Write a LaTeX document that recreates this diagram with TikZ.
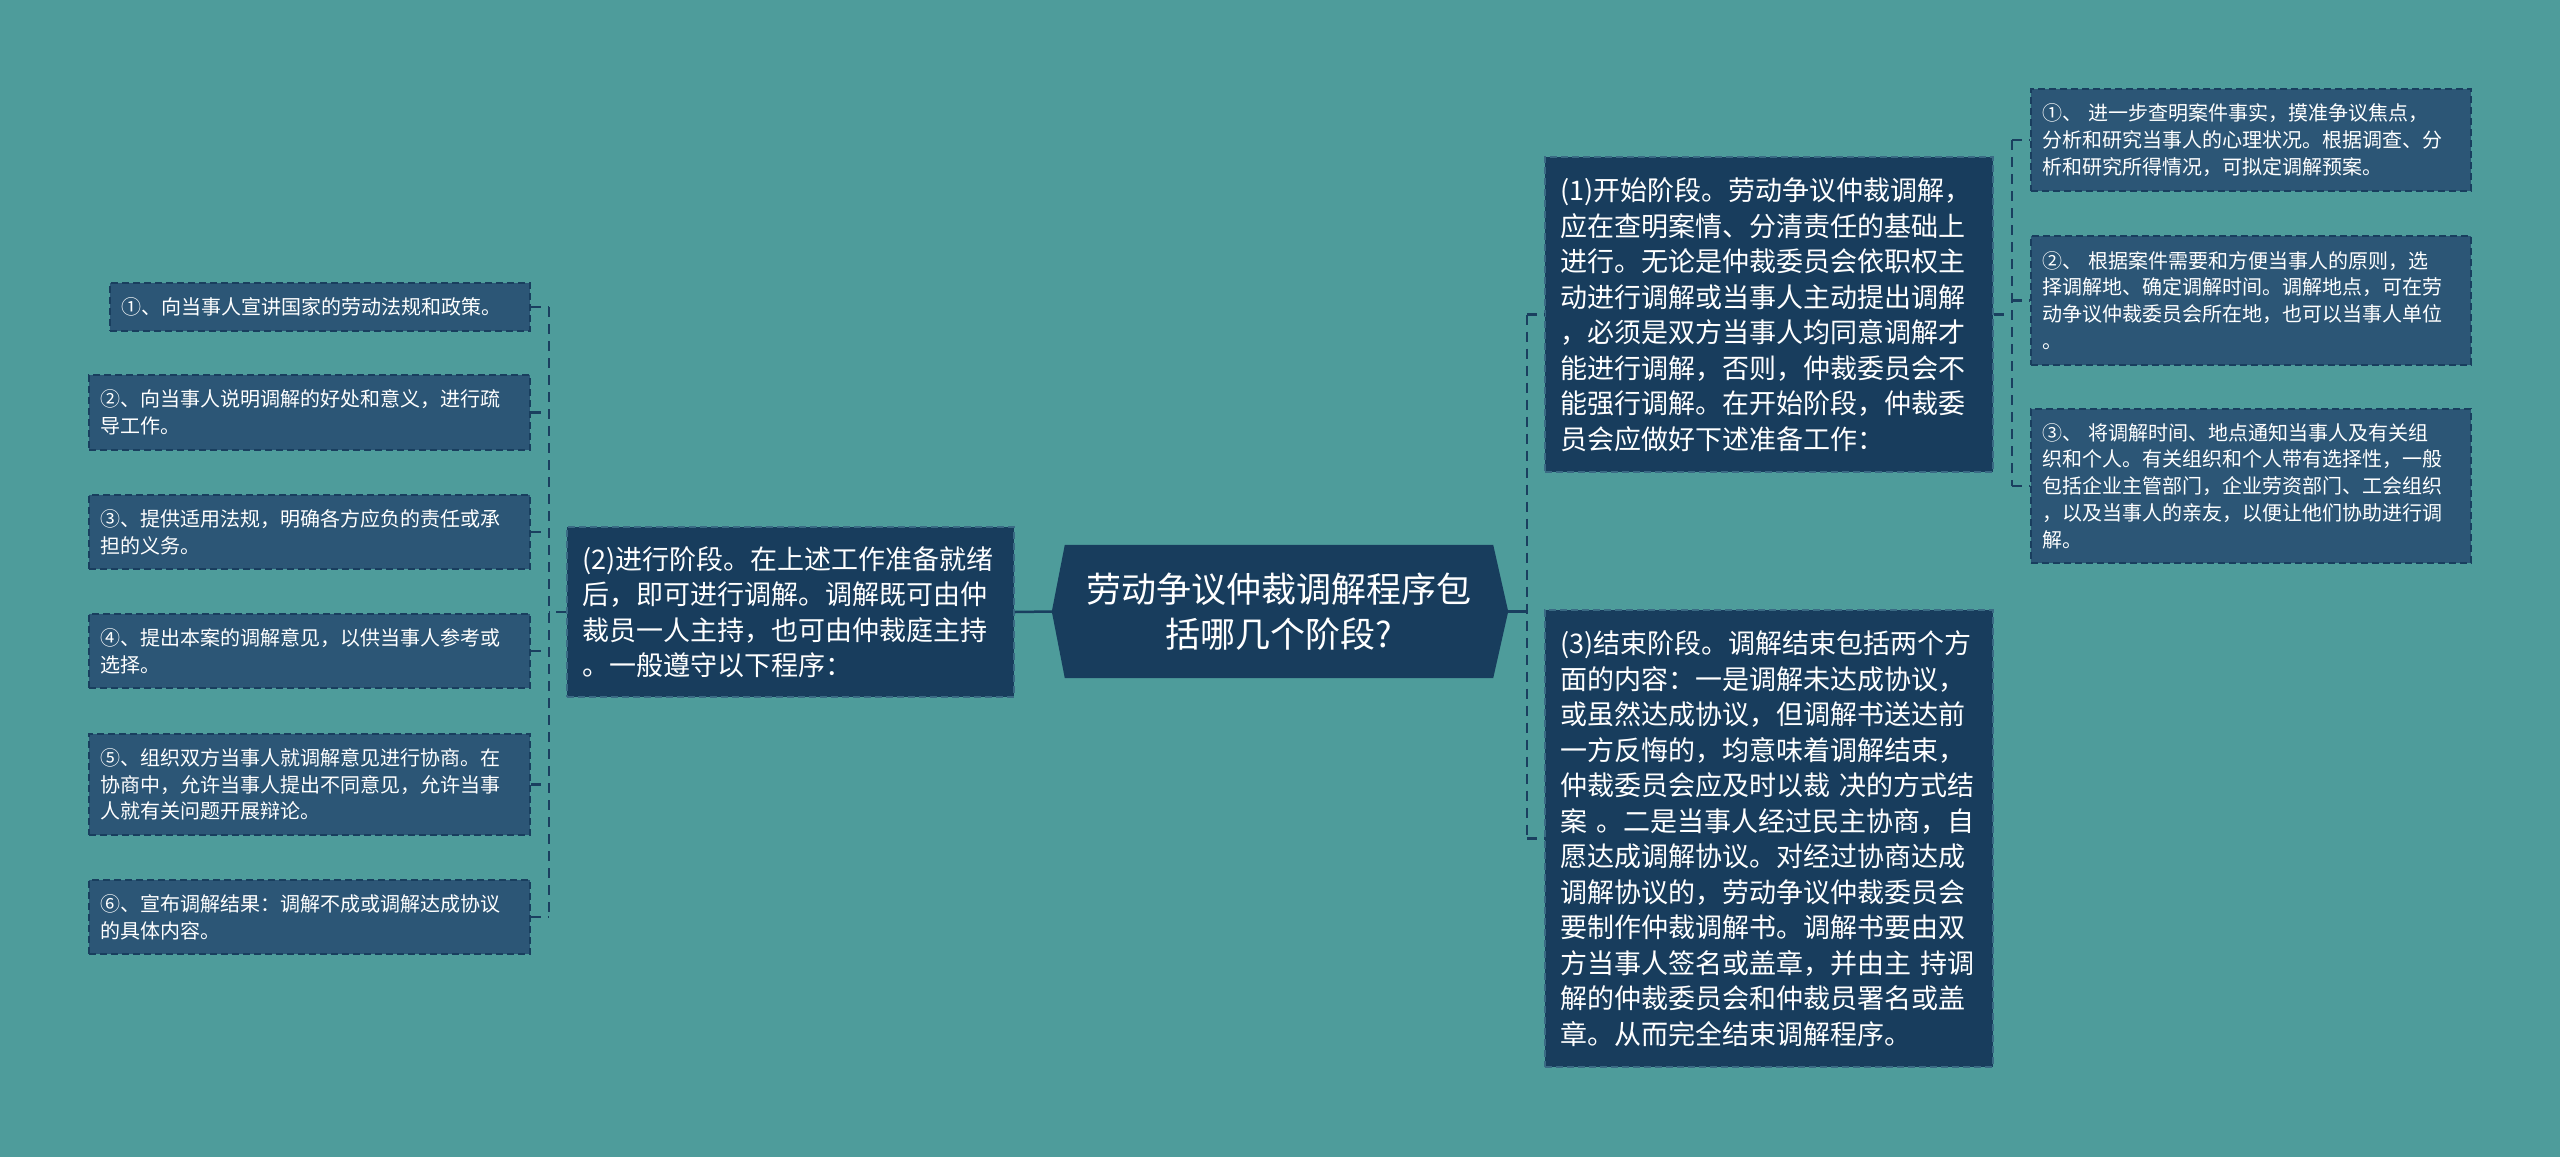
\documentclass[tikz,border=0pt]{standalone}
\usepackage{fontspec}
\newfontfamily\cjk{Noto Sans CJK SC}
\usetikzlibrary{backgrounds}
\definecolor{bgc}{HTML}{4E9C9B}
\definecolor{darkfill}{HTML}{183D5D}
\definecolor{leaffill}{HTML}{2C5676}
\definecolor{leafborder}{HTML}{193E5E}
\definecolor{midborder}{HTML}{3A6A84}
\definecolor{linec}{HTML}{1A3F5F}
\tikzset{
  rootbox/.style={draw=none, text=white, align=center,
    minimum width=428pt, minimum height=133pt, inner sep=0pt,
    font={\cjk\fontsize{35}{45}\selectfont}},
  midbox/.style={fill=darkfill, draw=midborder, dash pattern=on 7pt off 4pt, line width=1.5pt,
    text=white, align=left, inner xsep=15pt, inner ysep=10pt,
    font={\cjk\fontsize{27}{35.5}\selectfont}},
  leafbox/.style={fill=leaffill, draw=leafborder, dash pattern=on 7pt off 4pt, line width=1.5pt,
    text=white, align=left, inner xsep=11pt, inner ysep=8pt,
    font={\cjk\fontsize{20}{26.8}\selectfont}},
  conn/.style={draw=linec, line width=2.5pt},
  dconn/.style={draw=linec, line width=2.5pt, dash pattern=on 10pt off 7pt},
}
\begin{document}
\begin{tikzpicture}[x=1pt,y=-1pt]
\useasboundingbox (0,0) rectangle (2560,1157);
\begin{scope}[on background layer]
\fill[bgc] (0,0) rectangle (2560,1157);
\end{scope}

% root
\node[rootbox] (root) at (1279,611.5) {劳动争议仲裁调解程序包\\括哪几个阶段?};
\begin{scope}[on background layer]
\fill[darkfill] (root.north west) -- (root.north east) -- ([xshift=15pt]root.east)
  -- (root.south east) -- (root.south west) -- ([xshift=-13pt]root.west) -- cycle;
\end{scope}
\coordinate (rootL) at ([xshift=-13pt]root.west);
\coordinate (rootR) at ([xshift=15pt]root.east);

% level 1
\node[midbox, minimum width=447pt, minimum height=170pt, text width=417pt] (n2) at (790.5,612)
{(2)进行阶段。在上述工作准备就绪\\后，即可进行调解。调解既可由仲\\裁员一人主持，也可由仲裁庭主持\\。一般遵守以下程序：};

\node[midbox, minimum width=448pt, minimum height=315pt, text width=418pt] (n1) at (1769,314.5)
{(1)开始阶段。劳动争议仲裁调解，\\应在查明案情、分清责任的基础上\\进行。无论是仲裁委员会依职权主\\动进行调解或当事人主动提出调解\\，必须是双方当事人均同意调解才\\能进行调解，否则，仲裁委员会不\\能强行调解。在开始阶段，仲裁委\\员会应做好下述准备工作：};

\node[midbox, minimum width=448pt, minimum height=457pt, text width=418pt] (n3) at (1769,838.5)
{(3)结束阶段。调解结束包括两个方\\面的内容：一是调解未达成协议，\\或虽然达成协议，但调解书送达前\\一方反悔的，均意味着调解结束，\\仲裁委员会应及时以裁~决的方式结\\案~。二是当事人经过民主协商，自\\愿达成调解协议。对经过协商达成\\调解协议的，劳动争议仲裁委员会\\要制作仲裁调解书。调解书要由双\\方当事人签名或盖章，并由主~持调\\解的仲裁委员会和仲裁员署名或盖\\章。从而完全结束调解程序。};

% left leaves
\node[leafbox, minimum width=420pt, minimum height=48pt, text width=398pt] (L1) at (320,307)
{①、向当事人宣讲国家的劳动法规和政策。};
\node[leafbox, minimum width=441pt, minimum height=75pt, text width=419pt] (L2) at (309.5,412.5)
{②、向当事人说明调解的好处和意义，进行疏\\导工作。};
\node[leafbox, minimum width=441pt, minimum height=74pt, text width=419pt] (L3) at (309.5,532)
{③、提供适用法规，明确各方应负的责任或承\\担的义务。};
\node[leafbox, minimum width=441pt, minimum height=74pt, text width=419pt] (L4) at (309.5,651)
{④、提出本案的调解意见，以供当事人参考或\\选择。};
\node[leafbox, minimum width=441pt, minimum height=101pt, text width=419pt] (L5) at (309.5,784.5)
{⑤、组织双方当事人就调解意见进行协商。在\\协商中，允许当事人提出不同意见，允许当事\\人就有关问题开展辩论。};
\node[leafbox, minimum width=441pt, minimum height=74pt, text width=419pt] (L6) at (309.5,917)
{⑥、宣布调解结果：调解不成或调解达成协议\\的具体内容。};

% right leaves
\node[leafbox, minimum width=440pt, minimum height=102pt, text width=418pt] (R1) at (2251,140)
{①、~进一步查明案件事实，摸准争议焦点，\\分析和研究当事人的心理状况。根据调查、分\\析和研究所得情况，可拟定调解预案。};
\node[leafbox, minimum width=440pt, minimum height=129pt, text width=418pt] (R2) at (2251,300.5)
{②、~根据案件需要和方便当事人的原则，选\\择调解地、确定调解时间。调解地点，可在劳\\动争议仲裁委员会所在地，也可以当事人单位\\。};
\node[leafbox, minimum width=440pt, minimum height=154pt, text width=418pt] (R3) at (2251,486)
{③、~将调解时间、地点通知当事人及有关组\\织和个人。有关组织和个人带有选择性，一般\\包括企业主管部门，企业劳资部门、工会组织\\，以及当事人的亲友，以便让他们协助进行调\\解。};

% connectors: root to left
\coordinate (lj) at (549,612);
\draw[conn] (rootL) -- (n2.east);
\draw[dconn] (n2.west) -- (lj);
\draw[dconn] (lj |- L1.east) -- (lj |- L6.east);
\foreach \n in {L1,L2,L3,L4,L5,L6}{
  \draw[dconn] (\n.east) -- (lj |- \n.east);
}

% connectors: root to right
\coordinate (rj) at (1527,611.5);
\draw[conn] (rootR) -- (rj);
\draw[dconn] (rj |- n1.west) -- (rj |- n3.west);
\draw[dconn] (rj |- n1.west) -- (n1.west);
\draw[dconn] (rj |- n3.west) -- (n3.west);

% connectors: n1 to right leaves
\coordinate (rj2) at (2012,314.5);
\draw[dconn] (n1.east) -- (rj2);
\draw[dconn] (rj2 |- R1.west) -- (rj2 |- R3.west);
\foreach \n in {R1,R2,R3}{
  \draw[dconn] (rj2 |- \n.west) -- (\n.west);
}
\end{tikzpicture}
\end{document}
